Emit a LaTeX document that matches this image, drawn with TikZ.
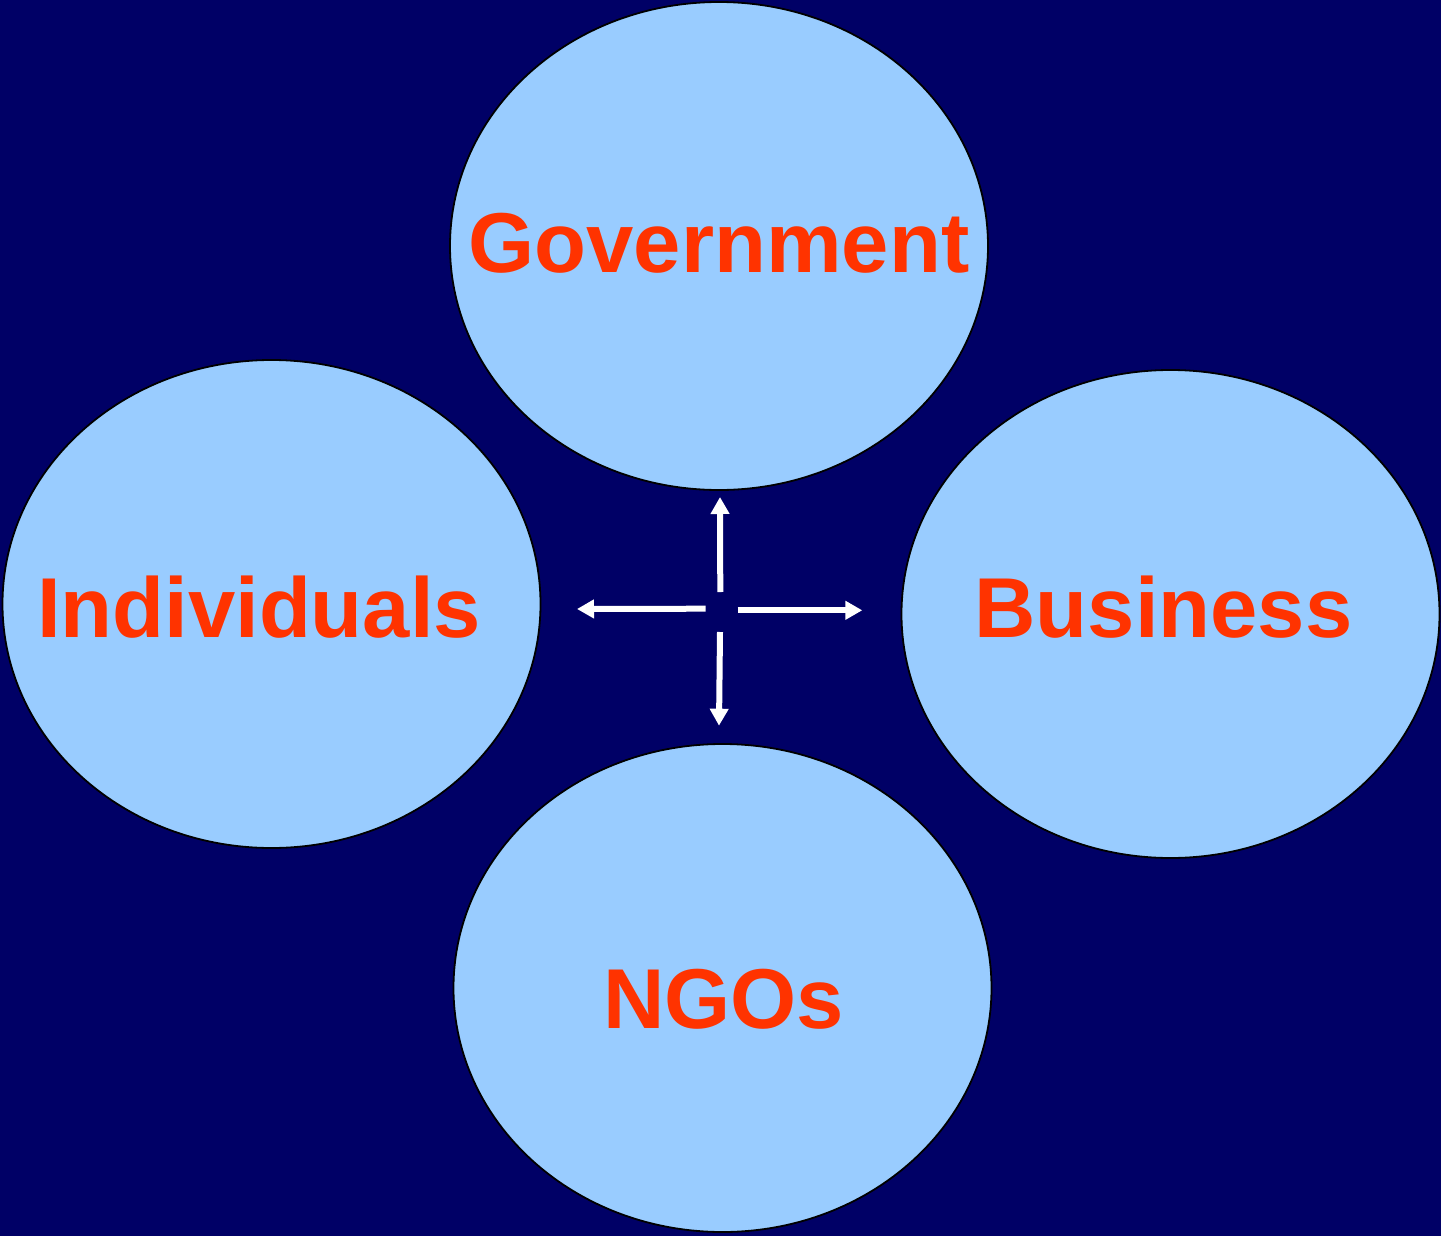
\documentclass[tikz,border=0pt]{standalone}
\usepackage{fontspec}
\setmainfont{Liberation Sans}
\usetikzlibrary{shapes.geometric,arrows.meta}
\definecolor{bg}{HTML}{000066}
\definecolor{bub}{HTML}{99CCFF}
\definecolor{lbl}{HTML}{FF3300}
\begin{document}
\begin{tikzpicture}[x=1pt,y=-1pt,
  bubble/.style={ellipse,draw=black,line width=1.8pt,fill=bub,minimum width=538pt,minimum height=488pt,inner sep=0pt},
  word/.style={anchor=base,text=lbl,font=\fontsize{85}{85}\bfseries\selectfont,inner sep=0pt},
  flow/.style={draw=white,line width=6pt,-{Triangle[width=18pt,length=17pt]}}]
\fill[bg] (0,0) rectangle (1441,1236);
\useasboundingbox (0,0) rectangle (1441,1236);
\node[bubble] (gov) at (719,246) {};
\node[bubble] (ind) at (271.5,604) {};
\node[bubble] (bus) at (1170.5,614) {};
\node[bubble] (ngo) at (722.5,988) {};
\node[word] (govt) at (719,272) {Government};
\node[word] (indt) at (259,637) {Individuals};
\node[word] (bust) at (1163.5,637) {Business};
\node[word] (ngot) at (723.5,1028) {NGOs};
\coordinate (uA) at (720.3,592);
\coordinate (uB) at (720,497);
\coordinate (dA) at (720,632);
\coordinate (dB) at (719,725.7);
\coordinate (lA) at (705.7,608.7);
\coordinate (lB) at (577,609);
\coordinate (rA) at (737.7,610.3);
\coordinate (rB) at (862.3,610.3);
\draw[flow] (uA) -- (uB);
\draw[flow] (dA) -- (dB);
\draw[flow] (lA) -- (lB);
\draw[flow] (rA) -- (rB);
\end{tikzpicture}
\end{document}
